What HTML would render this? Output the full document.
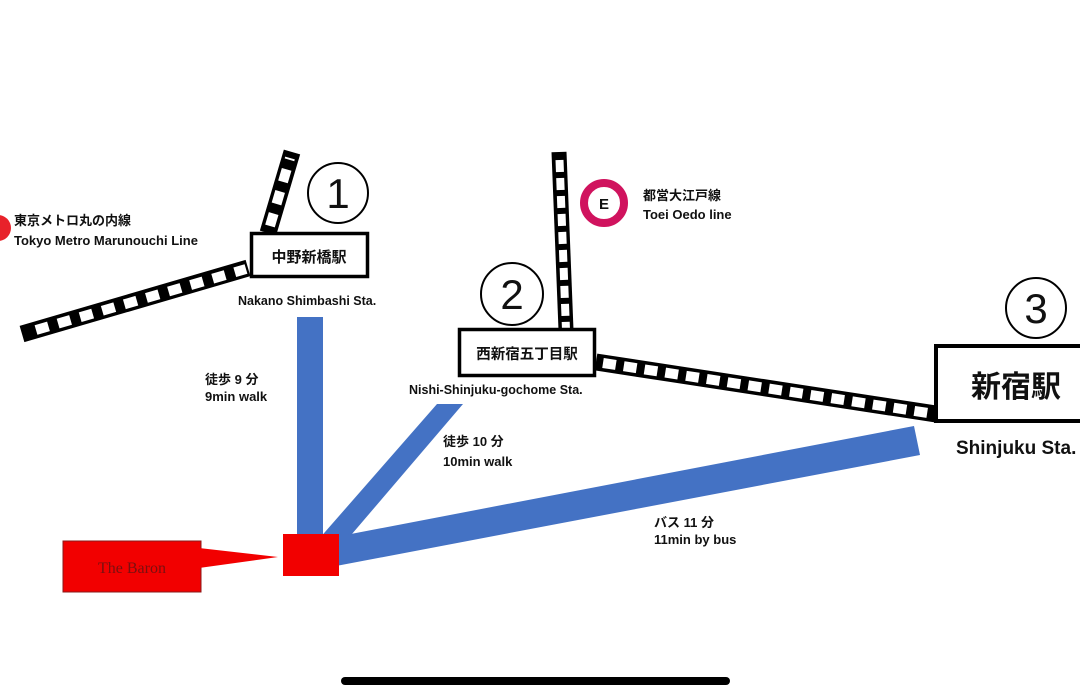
<!DOCTYPE html>
<html><head><meta charset="utf-8"><style>
html,body{margin:0;padding:0;background:#fff;width:1080px;height:700px;overflow:hidden}
svg{display:block}
text{font-family:"Liberation Sans","Noto Sans CJK JP",sans-serif;font-weight:bold;fill:#111}
</style></head><body>
<svg width="1080" height="700" viewBox="0 0 1080 700">
<g stroke-linecap="butt" fill="none">
 <line x1="22" y1="334" x2="248" y2="268" stroke="#000" stroke-width="17"/>
 <line x1="36" y1="330" x2="246" y2="269" stroke="#fff" stroke-width="10" stroke-dasharray="13 10"/>
 <line x1="268" y1="233" x2="292" y2="152" stroke="#000" stroke-width="17"/>
 <line x1="270" y1="226" x2="290" y2="158" stroke="#fff" stroke-width="10" stroke-dasharray="13 10"/>
 <line x1="559" y1="152" x2="566" y2="330" stroke="#000" stroke-width="15"/>
 <line x1="559.5" y1="160" x2="566" y2="330" stroke="#fff" stroke-width="8" stroke-dasharray="12 6"/>
 <line x1="596" y1="362" x2="936" y2="414" stroke="#000" stroke-width="17"/>
 <line x1="603" y1="363" x2="928" y2="413" stroke="#fff" stroke-width="10" stroke-dasharray="13 8"/>
</g>
<rect x="297" y="317" width="26" height="225" fill="#4472c4"/>
<polygon points="437,404 463,404 340,548 318,540" fill="#4472c4"/>
<polygon points="330,538 914,426 920,455 336,566" fill="#4472c4"/>
<rect x="283" y="534" width="56" height="42" fill="#f20000"/>
<rect x="63" y="541" width="138" height="51" fill="#f20000" stroke="#8a1a1a" stroke-width="1"/>
<polygon points="199,548 278,557 199,568" fill="#f20000"/>
<text x="132" y="573" text-anchor="middle" style="font-family:'Liberation Serif',serif;font-weight:normal;font-size:16px;fill:#7a1010">The Baron</text>
<rect x="251.5" y="233.5" width="116" height="43" fill="#fff" stroke="#000" stroke-width="3.5"/>
<text x="309" y="262" text-anchor="middle" font-size="15">中野新橋駅</text>
<rect x="459.5" y="329.5" width="135" height="46" fill="#fff" stroke="#000" stroke-width="3.5"/>
<text x="527" y="359" text-anchor="middle" font-size="14.5">西新宿五丁目駅</text>
<rect x="936" y="346" width="150" height="75" fill="#fff" stroke="#000" stroke-width="4"/>
<text x="1016" y="397" text-anchor="middle" font-size="30">新宿駅</text>
<circle cx="338" cy="193" r="30" fill="none" stroke="#000" stroke-width="2"/>
<text x="338" y="208" text-anchor="middle" font-size="42" style="font-weight:normal">1</text>
<circle cx="512" cy="294" r="31" fill="none" stroke="#000" stroke-width="2"/>
<text x="512" y="309" text-anchor="middle" font-size="42" style="font-weight:normal">2</text>
<circle cx="1036" cy="308" r="30" fill="none" stroke="#000" stroke-width="2"/>
<text x="1036" y="323" text-anchor="middle" font-size="42" style="font-weight:normal">3</text>
<circle cx="-2" cy="228" r="13" fill="#e8222a"/>
<text x="14" y="225" font-size="13">東京メトロ丸の内線</text>
<text x="14" y="245" font-size="13">Tokyo Metro Marunouchi Line</text>
<circle cx="604" cy="203" r="20" fill="#fff" stroke="#d0135e" stroke-width="8"/>
<text x="604" y="209" text-anchor="middle" font-size="15">E</text>
<text x="643" y="200" font-size="13">都営大江戸線</text>
<text x="643" y="219" font-size="13">Toei Oedo line</text>
<text x="238" y="305" font-size="12.5">Nakano Shimbashi Sta.</text>
<text x="409" y="394" font-size="12.5">Nishi-Shinjuku-gochome Sta.</text>
<text x="956" y="454" font-size="19">Shinjuku Sta.</text>
<text x="205" y="384" font-size="13">徒歩 9 分</text>
<text x="205" y="401" font-size="13">9min walk</text>
<text x="443" y="446" font-size="13">徒歩 10 分</text>
<text x="443" y="466" font-size="13">10min walk</text>
<text x="654" y="527" font-size="13">バス 11 分</text>
<text x="654" y="544" font-size="13">11min by bus</text>
<rect x="341" y="677" width="389" height="8" rx="4" fill="#000"/>
</svg>
</body></html>
